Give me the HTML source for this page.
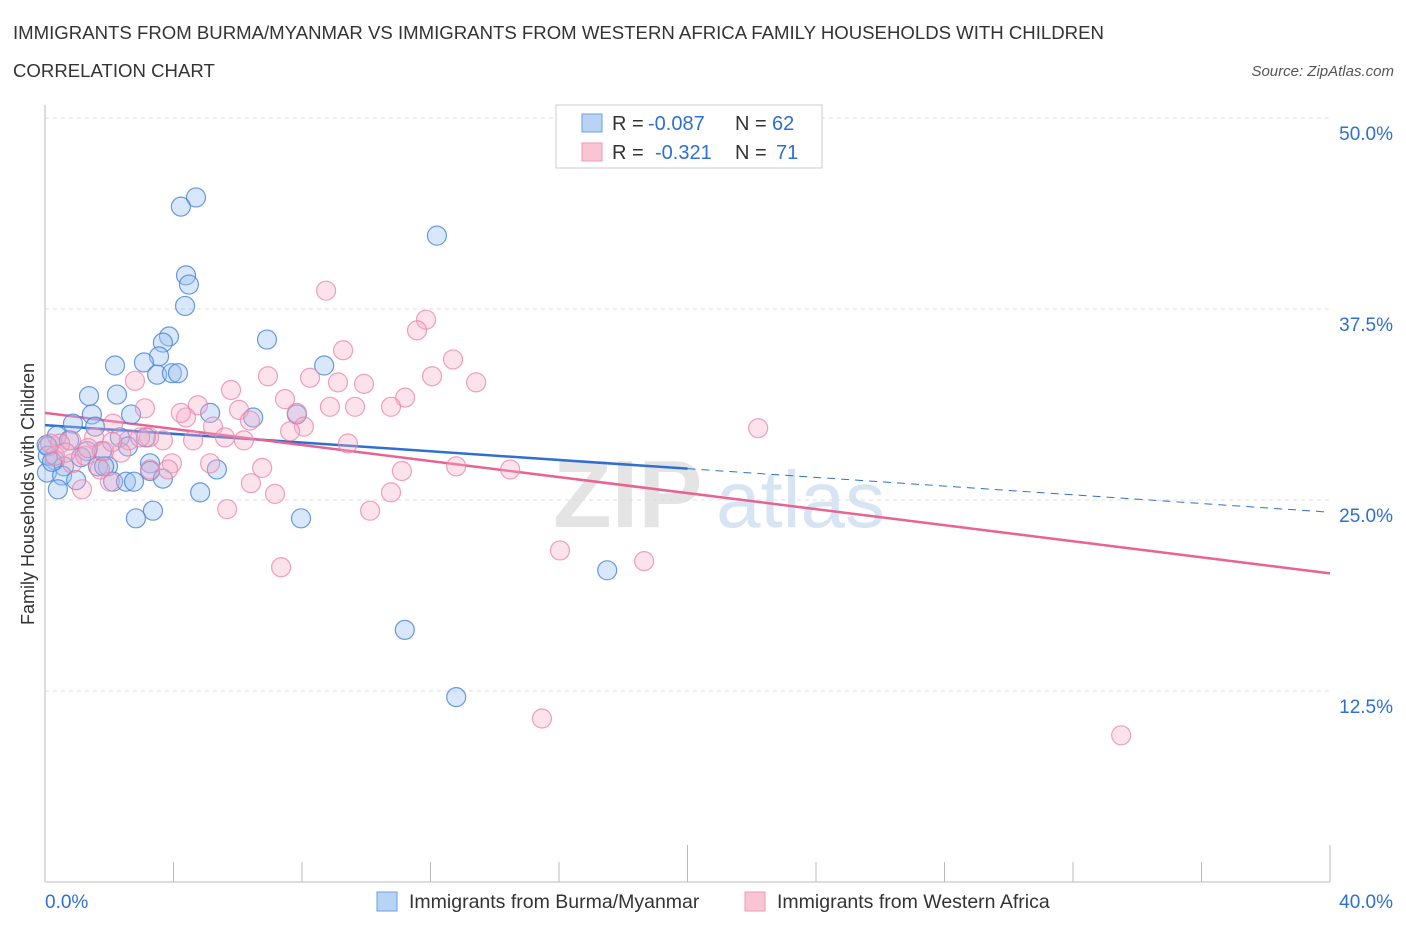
<!DOCTYPE html>
<html><head><meta charset="utf-8"><style>
body{margin:0;background:#fff;font-family:"Liberation Sans",sans-serif;}
svg text{font-family:"Liberation Sans",sans-serif;}
</style></head><body>
<svg id="chart" width="1406" height="930" xmlns="http://www.w3.org/2000/svg">
<text x="13" y="39" font-size="18.6" fill="#333">IMMIGRANTS FROM BURMA/MYANMAR VS IMMIGRANTS FROM WESTERN AFRICA FAMILY HOUSEHOLDS WITH CHILDREN</text>
<text x="13" y="77" font-size="18.6" fill="#333">CORRELATION CHART</text>
<text x="1394" y="76" font-size="15" fill="#555" text-anchor="end" font-style="italic">Source: ZipAtlas.com</text>
<g>
<text x="553" y="527" font-size="96" fill="#e4e4e4" font-family="Liberation Serif" font-weight="bold">ZIP</text>
<text x="716" y="527" font-size="80" fill="#d6e4f3">atlas</text>
</g>
<g id="grid"></g>
<g id="axes"></g>
<g id="lines"></g>
<g id="pts"></g>
<text transform="translate(34,494) rotate(-90)" font-size="18" fill="#333" text-anchor="middle">Family Households with Children</text>
<g>
<rect x="556" y="105" width="266" height="63" fill="#fff" stroke="#ccc"/>
<rect x="582" y="114" width="20" height="18" fill="#b9d3f5" stroke="#6d9ee0"/>
<rect x="582" y="143" width="20" height="18" fill="#f9c5d5" stroke="#ec9ab5"/>
<text x="612" y="130" font-size="20" fill="#333">R =</text>
<text x="648" y="130" font-size="20" fill="#2e6fd0">-0.087</text>
<text x="735" y="130" font-size="20" fill="#333">N =</text>
<text x="772" y="130" font-size="20" fill="#2e6fd0">62</text>
<text x="612" y="159" font-size="20" fill="#333">R =</text>
<text x="655" y="159" font-size="20" fill="#2e6fd0">-0.321</text>
<text x="735" y="159" font-size="20" fill="#333">N =</text>
<text x="776" y="159" font-size="20" fill="#2e6fd0">71</text>
</g>
<g>
<rect x="377" y="892" width="20" height="19" fill="#b9d3f5" stroke="#6d9ee0"/>
<text x="409" y="908" font-size="19.5" fill="#333">Immigrants from Burma/Myanmar</text>
<rect x="745" y="892" width="20" height="19" fill="#f9c5d5" stroke="#ec9ab5"/>
<text x="777" y="908" font-size="19.5" fill="#333">Immigrants from Western Africa</text>
</g>
</svg>
<script>
const xTicks=[0,5,10,15,20,25,30,35,40];
const yTicks=[12.5,25,37.5,50];
const blueX=[4.7,4.23,12.2,4.39,4.48,4.36,6.91,3.86,3.67,3.55,2.18,3.08,8.69,3.49,3.95,4.14,2.24,1.37,1.46,2.68,5.14,6.48,7.84,0.87,1.56,2.33,3.14,0.37,0.75,2.58,1.77,1.31,1.12,0.09,0.31,3.27,0.59,1.65,1.96,1.84,5.35,3.27,0.06,0.53,0.97,2.12,2.52,2.77,3.67,0.40,4.83,3.36,2.83,7.97,17.5,11.2,12.8,0.09,0.22,0.05];
const blueY=[44.8,44.2,42.3,39.7,39.1,37.7,35.5,35.7,35.3,34.4,33.8,34.0,33.8,33.2,33.3,33.3,31.9,31.8,30.6,30.6,30.7,30.4,30.6,30.0,29.8,29.1,29.1,29.2,28.9,28.5,28.2,28.2,27.8,28.5,27.6,27.4,27.2,27.2,27.2,27.2,27.0,26.9,26.8,26.6,26.3,26.2,26.2,26.2,26.4,25.7,25.5,24.3,23.8,23.8,20.4,16.5,12.1,27.9,27.5,28.6];
const pinkX=[8.75,11.86,11.58,9.28,12.7,6.94,12.05,8.25,13.42,2.8,5.79,7.47,9.12,9.93,11.21,3.11,4.76,4.39,6.04,10.77,8.87,9.65,4.23,7.84,6.38,8.06,5.23,7.63,5.6,22.2,2.12,3.67,4.61,6.19,2.61,1.53,3.24,9.43,0.81,0.47,1.84,0.31,3.95,5.14,6.76,11.11,12.8,14.48,0.84,2.37,3.83,6.41,7.16,2.02,1.15,5.67,10.12,10.77,16.03,18.65,7.35,15.47,33.5,0.16,1.25,2.09,0.65,1.71,2.96,1.34,3.27];
const pinkY=[38.7,36.8,36.1,34.8,34.2,33.1,33.1,33.0,32.7,32.8,32.2,31.6,32.7,32.6,31.7,31.0,31.2,30.4,30.9,31.1,31.1,31.1,30.7,30.7,30.2,29.8,29.8,29.5,29.1,29.7,30.0,28.9,28.9,28.9,28.9,29.1,29.1,28.7,28.9,28.7,28.2,27.9,27.4,27.4,27.1,26.9,27.2,27.0,27.4,28.1,27.0,26.1,25.4,26.2,25.7,24.4,24.3,25.5,21.7,21.0,20.6,10.7,9.6,28.7,27.9,28.8,28.1,27.0,29.1,28.4,27.0];
const blueTrend=[29.9,24.2];
const pinkTrend=[30.7,20.2];
const X0=45,X1=1330,Ybot=882;
function sx(v){return X0+(v/40)*(X1-X0);}
function sy(v){return 500-(v-25)*15.28;}
const NS="http://www.w3.org/2000/svg";
function mk(tag,attrs,parent){const e=document.createElementNS(NS,tag);for(const k in attrs)e.setAttribute(k,attrs[k]);parent.appendChild(e);return e;}
const grid=document.getElementById('grid'),axes=document.getElementById('axes'),lines=document.getElementById('lines'),pts=document.getElementById('pts');
yTicks.forEach(t=>{
 const l=mk('line',{x1:X0,x2:X1,y1:sy(t),y2:sy(t),stroke:'#ddd','stroke-dasharray':'4,4'},grid);
 
 
 const tx=mk('text',{x:1393,y:sy(t)+22,'font-size':19,fill:'#2e6fd0','text-anchor':'end'},axes);
 tx.textContent=t.toFixed(1)+'%';
 
 
});
mk('line',{x1:X0,x2:X0,y1:105,y2:Ybot,stroke:'#bbb'},axes);
mk('line',{x1:X0,x2:X1,y1:Ybot,y2:Ybot,stroke:'#bbb'},axes);
for(let i=0;i<=10;i++){const v=i*4;const big=(i==5||i==10);
 const t=mk('line',{x1:sx(v),x2:sx(v),y1:big?845:862,y2:Ybot,stroke:'#bbb'},axes);
 
 }
[[0,'start',45],[40,'end',1393]].forEach(a=>{const tx=mk('text',{x:a[2],y:908,'font-size':19,fill:'#2e6fd0','text-anchor':a[1]},axes);tx.textContent=a[0].toFixed(1)+'%';
 
 });
function dot(x,y,fill,stroke,name){const c=mk('circle',{cx:sx(x),cy:sy(y),r:9.5,fill:fill,stroke:stroke,'stroke-width':1.2},pts);
 
 }
blueX.forEach((x,i)=>dot(x,blueY[i],'rgba(160,196,242,0.4)','rgba(70,130,215,0.8)','burma-point'));
pinkX.forEach((x,i)=>dot(x,pinkY[i],'rgba(246,172,197,0.35)','rgba(235,130,170,0.75)','western-africa-point'));
const bm=blueTrend[0]+(blueTrend[1]-blueTrend[0])*0.5;
const b1=mk('line',{x1:sx(0),y1:sy(blueTrend[0]),x2:sx(20),y2:sy(bm),stroke:'#2e6fd0','stroke-width':2.5},lines);


const b2=mk('line',{x1:sx(20),y1:sy(bm),x2:sx(40),y2:sy(blueTrend[1]),stroke:'#2e6fd0','stroke-width':1,'stroke-dasharray':'8,6'},lines);


const p1=mk('line',{x1:sx(0),y1:sy(pinkTrend[0]),x2:sx(40),y2:sy(pinkTrend[1]),stroke:'#e8638f','stroke-width':2.5},lines);


</script>
</body></html>
